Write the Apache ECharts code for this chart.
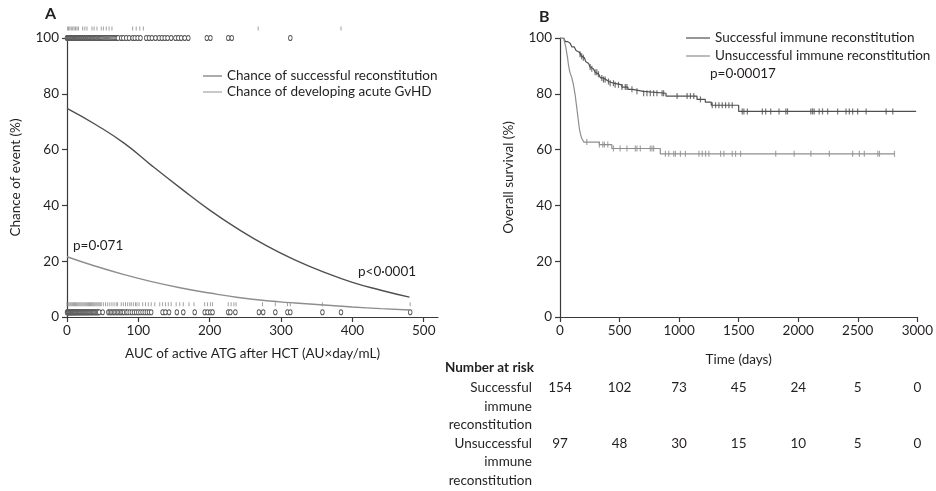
<!DOCTYPE html>
<html><head><meta charset="utf-8">
<script src="https://cdn.jsdelivr.net/npm/echarts@6/dist/echarts.min.js"></script>
<style>html,body{margin:0;padding:0;background:#fff}#c{width:936px;height:491px}</style>
</head><body><div id="c"></div>
<script>
// ---------- Panel A data ----------
const aucGrid = [0,40,80,120,160,200,240,280,320,360,400,440,480];
const reconChance = [74.8,69.0,62.3,54.0,46.0,38.3,31.5,25.5,20.4,16.1,12.4,9.6,7.1];
const gvhdChance = [21.6,18.2,15.2,12.6,10.4,8.6,7.0,5.8,5.0,4.3,3.6,3.0,2.5];
const topCircles = [0,0.7,1.4,2.1,2.8,3.5,4.2,5,5.7,6.4,7.1,7.8,8.5,9.2,10,10.8,11.5,12.3,13,13.8,14.5,15.3,16,16.9,17.7,18.5,19.4,20.2,21,22,22.8,23.7,24.6,25.5,26.5,27.4,28.3,29.3,30.2,31.2,32.2,33.2,34.2,35.2,36.3,37.3,38.4,39.5,40.6,41.7,42.8,44,45.2,46.4,47.6,48.8,50,51.3,52.6,53.9,55.2,56.6,58,59.4,60.8,62.3,63.8,65.3,66.8,68.4,70,71.6,76,79,83,87,92,95,99,103,111,115,119,124,129,133,137,141,146,152,156,160,165,170,196,201,226,231,313];
const topTicks = [1,2,4,6,8,10,12,14,16,22,25,28,35,38,42,48,51,55,59,63,92,97,102,107,268,384];
const bottomCircles = [0,0.6,1.2,1.8,2.4,3,3.6,4.2,4.9,5.5,6.2,6.8,7.5,8.2,8.9,9.6,10.3,11,11.8,12.5,13.3,14,14.8,15.6,16.4,17.2,18,18.9,19.7,20.6,21.5,22.4,23.3,24.2,25.2,26.1,27.1,28.1,29.1,30.1,31.2,32.2,33.3,34.4,35.5,36.7,37.8,39,40.2,41.4,42.6,43.9,45.2,50,58,60,62,64,66,68,70,72,74,76,78,80,83,85,88,91,94,97,100,103,106,109,112,115,118,134,138,143,154,163,179,193,197,201,204,226,229,236,269,275,292,309,313,358,384,481];
const bottomTicks = [0,1.5,3,4.5,6,7.5,9,10.5,12,13.5,15,16.5,18,19.5,21,22.5,24,25.5,27,28.5,30,31.5,33,34.5,36,37.5,39,40.5,42,43.5,45,46.5,48,51,54,57,60,63,66,69,71,76,79,82,85,88,90,93,96,98,101,106,110,114,118,123,130,134,138,142,146,153,158,163,171,178,193,197,201,204,226,230,234,237,274,292,309,313,358,481];
const aTickLabels = [0,100,200,300,400,500];

// ---------- Panel B data ----------
const succSteps = [[0,100],[30,99.4],[45,98.7],[65,98.1],[85,97.4],[100,96.8],[120,96.1],[135,95.5],[150,94.8],[165,94.2],[180,93.5],[192,92.9],[205,92.2],[215,91.6],[228,90.9],[240,90.3],[252,89.6],[265,89.0],[280,88.3],[295,87.7],[310,87.0],[325,86.4],[340,85.7],[360,85.1],[385,84.4],[410,83.8],[450,83.2],[520,82.4],[570,81.6],[610,80.9],[700,80.2],[890,79.2],[1150,78.0],[1220,77.0],[1270,75.9],[1500,73.7],[2990,73.7]];
const unsuccSteps = [[0,100],[35,99],[42,97.9],[48,96.9],[52,95.9],[56,94.8],[60,93.8],[64,92.8],[67,91.7],[70,90.7],[74,89.7],[78,88.7],[84,87.6],[92,86.6],[100,85.6],[106,84.5],[112,83.5],[116,82.5],[120,81.4],[124,80.4],[128,79.4],[131,78.4],[134,77.3],[137,76.3],[140,75.3],[143,74.2],[146,73.2],[149,72.2],[152,71.1],[155,70.1],[158,69.1],[161,68.0],[165,67.0],[170,66.0],[176,64.9],[184,63.9],[200,62.7],[330,61.8],[435,60.4],[842,58.5],[2808,58.5]];
const succCensor = [168,182,196,253,267,295,309,323,351,365,379,407,421,449,463,491,520,548,562,604,646,702,730,758,786,814,857,870,983,1067,1095,1123,1179,1278,1306,1334,1362,1390,1418,1446,1530,1544,1573,1699,1727,1769,1839,1896,1910,2106,2120,2134,2176,2204,2247,2331,2401,2429,2457,2499,2570,2738,2794];
const unsuccCensor = [225,331,359,373,401,449,505,562,632,646,674,758,772,786,885,913,955,969,1011,1053,1166,1194,1222,1250,1348,1376,1446,1474,1516,1811,1966,2106,2261,2457,2513,2555,2668,2682,2808];
const riskTimes = [0,500,1000,1500,2000,2500,3000];
const riskSucc = [154,102,73,45,24,5,0];
const riskUnsucc = [97,48,30,15,10,5,0];

// ---------- styling ----------
const FONT = 'Lato';
const TXT = '#231f20';
const AX = '#3a3a3a';
const DARK = '#505050';
const LIGHT = '#8e8e8e';
const FS = 13.5;

function survAt(steps, t){ let v = steps[0][1]; for (const s of steps){ if (s[0] <= t) v = s[1]; } return v; }
const plain = v => String(v);

const tickStyle = {show:true,length:5,lineStyle:{color:AX,width:1.2}};
const axisCommon = {
  axisLine:{show:true,lineStyle:{color:AX,width:1.2}},
  axisTick:tickStyle,
  splitLine:{show:false},
  axisLabel:{color:TXT,fontFamily:FONT,fontSize:FS,formatter:plain},
  nameTextStyle:{color:TXT,fontFamily:FONT,fontSize:FS}
};
const lineIcon = 'path://M0,0L20,0L20,1L0,1Z';

const chart = echarts.init(document.getElementById('c'), null, {renderer:'canvas'});
const option = {
  animation:false,
  backgroundColor:'#fff',
  textStyle:{fontFamily:FONT},
  grid:[
    {left:67,top:38,width:371,height:279},
    {left:560,top:38,width:358,height:279}
  ],
  xAxis:[
    Object.assign({}, axisCommon, {type:'value',gridIndex:0,min:0,max:520,
      name:'AUC of active ATG after HCT (AU\u00d7day/mL)',nameLocation:'middle',nameGap:30,
      axisTick:Object.assign({customValues:aTickLabels}, tickStyle),
      axisLabel:{color:TXT,fontFamily:FONT,fontSize:FS,margin:7,formatter:plain,customValues:aTickLabels}}),
    Object.assign({}, axisCommon, {type:'value',gridIndex:1,min:0,max:3000,interval:500,
      name:'Time (days)',nameLocation:'middle',nameGap:36,
      axisLabel:{color:TXT,fontFamily:FONT,fontSize:FS,margin:7,formatter:plain}})
  ],
  yAxis:[
    Object.assign({}, axisCommon, {type:'value',gridIndex:0,min:0,max:100,interval:20,
      name:'Chance of event (%)',nameLocation:'middle',nameGap:44}),
    Object.assign({}, axisCommon, {type:'value',gridIndex:1,min:0,max:100,interval:20,
      name:'Overall survival (%)',nameLocation:'middle',nameGap:44})
  ],
  legend:[
    {left:198,top:64,orient:'vertical',icon:lineIcon,itemWidth:19,itemHeight:1.2,itemGap:2,
     data:['Chance of successful reconstitution','Chance of developing acute GvHD'],
     textStyle:{color:TXT,fontFamily:FONT,fontSize:FS}},
    {left:681,top:26,orient:'vertical',icon:lineIcon,itemWidth:24,itemHeight:1.2,itemGap:4,
     data:['Successful immune reconstitution','Unsuccessful immune reconstitution'],
     textStyle:{color:TXT,fontFamily:FONT,fontSize:FS}}
  ],
  series:[
    {name:'Chance of successful reconstitution',type:'line',xAxisIndex:0,yAxisIndex:0,smooth:0.5,symbol:'none',
     data:aucGrid.map((x,i)=>[x,reconChance[i]]),lineStyle:{color:DARK,width:1.4},itemStyle:{color:DARK}},
    {name:'Chance of developing acute GvHD',type:'line',xAxisIndex:0,yAxisIndex:0,smooth:0.5,symbol:'none',
     data:aucGrid.map((x,i)=>[x,gvhdChance[i]]),lineStyle:{color:LIGHT,width:1.4},itemStyle:{color:LIGHT}},
    {type:'scatter',xAxisIndex:0,yAxisIndex:0,clip:false,symbol:'circle',symbolSize:[3.6,5],
     data:topCircles.map(x=>[x,100]),itemStyle:{color:'#ffffff',borderColor:'#5a5a5a',borderWidth:1,opacity:1}},
    {type:'scatter',xAxisIndex:0,yAxisIndex:0,clip:false,symbol:'rect',symbolSize:[1,4],
     data:topTicks.map(x=>[x,103.4]),itemStyle:{color:'#888'}},
    {type:'scatter',xAxisIndex:0,yAxisIndex:0,clip:false,symbol:'circle',symbolSize:[3.6,5],
     data:bottomCircles.map(x=>[x,1.7]),itemStyle:{color:'#ffffff',borderColor:'#5a5a5a',borderWidth:1,opacity:1}},
    {type:'scatter',xAxisIndex:0,yAxisIndex:0,clip:false,symbol:'rect',symbolSize:[1,4],
     data:bottomTicks.map(x=>[x,4.6]),itemStyle:{color:'#888'}},
    {name:'Successful immune reconstitution',type:'line',xAxisIndex:1,yAxisIndex:1,step:'end',symbol:'none',
     data:succSteps,lineStyle:{color:DARK,width:1.2},itemStyle:{color:DARK}},
    {name:'Unsuccessful immune reconstitution',type:'line',xAxisIndex:1,yAxisIndex:1,step:'end',symbol:'none',
     data:unsuccSteps,lineStyle:{color:LIGHT,width:1.2},itemStyle:{color:LIGHT}},
    {type:'scatter',xAxisIndex:1,yAxisIndex:1,symbol:'rect',symbolSize:[1.2,6],
     data:succCensor.map(t=>[t,survAt(succSteps,t)]),itemStyle:{color:DARK}},
    {type:'scatter',xAxisIndex:1,yAxisIndex:1,symbol:'rect',symbolSize:[1.2,6],
     data:unsuccCensor.map(t=>[t,survAt(unsuccSteps,t)]),itemStyle:{color:LIGHT}}
  ]
};
chart.setOption(option);

// ---------- annotations ----------
const g = [];
function txt(x,y,s,opt){ g.push({type:'text',x:x,y:y,style:Object.assign({text:s,fill:TXT,font:FS+'px '+FONT,textVerticalAlign:'middle'},opt||{})}); }
txt(45,14,'A',{font:'bold 16px '+FONT});
txt(539,17,'B',{font:'bold 16px '+FONT});
txt(73,246,'p=0\u00b7071');
txt(358,272,'p<0\u00b70001');
txt(710,74,'p=0\u00b700017');
txt(534,368,'Number at risk',{font:'bold '+FS+'px '+FONT,textAlign:'right'});
const rowLabels = [['Successful',388],['immune',407],['reconstitution',425],['Unsuccessful',444],['immune',462],['reconstitution',481]];
rowLabels.forEach(r=>txt(532,r[1],r[0],{textAlign:'right'}));
riskTimes.forEach((t,i)=>{
  const px = chart.convertToPixel({xAxisIndex:1}, t);
  txt(px,388,String(riskSucc[i]),{textAlign:'center'});
  txt(px,444,String(riskUnsucc[i]),{textAlign:'center'});
});
chart.setOption({graphic:g});
</script></body></html>
